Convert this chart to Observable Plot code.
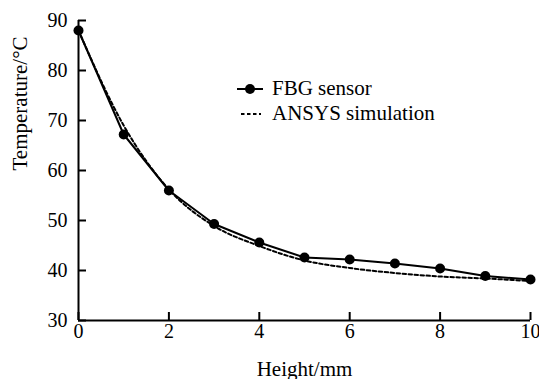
<!DOCTYPE html>
<html>
<head>
<meta charset="utf-8">
<script src="https://cdn.jsdelivr.net/npm/d3@7"></script>
<script src="https://cdn.jsdelivr.net/npm/@observablehq/plot@0.6"></script>
<style>
  html, body { margin: 0; padding: 0; background: #fff; }
  #wrap { position: relative; width: 539px; height: 379px; overflow: hidden; }
  #chart svg, #chart svg text { font-family: "Liberation Serif", serif !important; }
  #legend { position: absolute; left: 236px; top: 76px; font-family: "Liberation Serif", serif; font-size: 21px; color: #000; line-height: 25px; }
  #legend .row { display: flex; align-items: center; height: 25px; }
  #legend svg { margin-right: 8px; }
</style>
</head>
<body>
<div id="wrap">
  <div id="chart"></div>
  <div id="legend"></div>
</div>
<script>
const heights = [0, 1, 2, 3, 4, 5, 6, 7, 8, 9, 10];
const fbgSensor = [88, 67.2, 56, 49.3, 45.6, 42.6, 42.2, 41.4, 40.4, 38.9, 38.2];
const ansysSimulation = [88, 69, 56.2, 48.9, 44.9, 42, 40.5, 39.5, 38.8, 38.4, 37.9];
const xTicks = [0, 2, 4, 6, 8, 10];
const yTicks = [30, 40, 50, 60, 70, 80, 90];
const seriesNames = ["FBG sensor", "ANSYS simulation"];

const fbg = heights.map((h, i) => ({h, t: fbgSensor[i]}));
const sim = heights.map((h, i) => ({h, t: ansysSimulation[i]}));

const serif = "'Liberation Serif', serif";
const plot = Plot.plot({
  width: 539,
  height: 379,
  marginLeft: 78,
  marginRight: 9,
  marginTop: 20,
  marginBottom: 59,
  style: {fontFamily: serif, fontSize: "20px", color: "#000", background: "#fff"},
  x: {domain: [0, 10], ticks: xTicks},
  y: {domain: [30, 90], ticks: yTicks},
  marks: [
    Plot.axisX(xTicks, {tickSize: -8, tickPadding: 11, strokeWidth: 2, label: null, fontSize: 20, fontFamily: serif}),
    Plot.axisY(yTicks, {tickSize: -8, tickPadding: 19, strokeWidth: 2, label: null, fontSize: 20, fontFamily: serif}),
    Plot.ruleX([0], {strokeWidth: 2}),
    Plot.ruleY([30], {strokeWidth: 2}),
    Plot.line(sim, {x: "h", y: "t", curve: "monotone-x", stroke: "#000", strokeWidth: 2, strokeDasharray: "3.5,2.5"}),
    Plot.line(fbg, {x: "h", y: "t", stroke: "#000", strokeWidth: 2}),
    Plot.dot(fbg, {x: "h", y: "t", r: 5, fill: "#000", stroke: "none"}),
    Plot.text(["Height/mm"], {frameAnchor: "bottom", dy: 55, fontSize: 21, fontFamily: serif, lineAnchor: "bottom"}),
    Plot.text(["Temperature/°C"], {frameAnchor: "left", dx: -66, rotate: -90, fontSize: 21, fontFamily: serif, lineAnchor: "top"})
  ]
});
document.getElementById("chart").appendChild(plot);

const legend = document.getElementById("legend");
seriesNames.forEach((name, i) => {
  const row = document.createElement("div");
  row.className = "row";
  const ns = "http://www.w3.org/2000/svg";
  const s = document.createElementNS(ns, "svg");
  s.setAttribute("width", 28); s.setAttribute("height", 12);
  const ln = document.createElementNS(ns, "line");
  ln.setAttribute("x1", i === 0 ? 1 : 5); ln.setAttribute("x2", i === 0 ? 27 : 25);
  ln.setAttribute("y1", 6); ln.setAttribute("y2", 6);
  ln.setAttribute("stroke", "#000"); ln.setAttribute("stroke-width", 2);
  if (i === 1) ln.setAttribute("stroke-dasharray", "3.5,2.5");
  s.appendChild(ln);
  if (i === 0) {
    const c = document.createElementNS(ns, "circle");
    c.setAttribute("cx", 14); c.setAttribute("cy", 6); c.setAttribute("r", 5); c.setAttribute("fill", "#000");
    s.appendChild(c);
  }
  row.appendChild(s);
  const t = document.createElement("span");
  t.textContent = name;
  row.appendChild(t);
  legend.appendChild(row);
});
</script>
</body>
</html>
